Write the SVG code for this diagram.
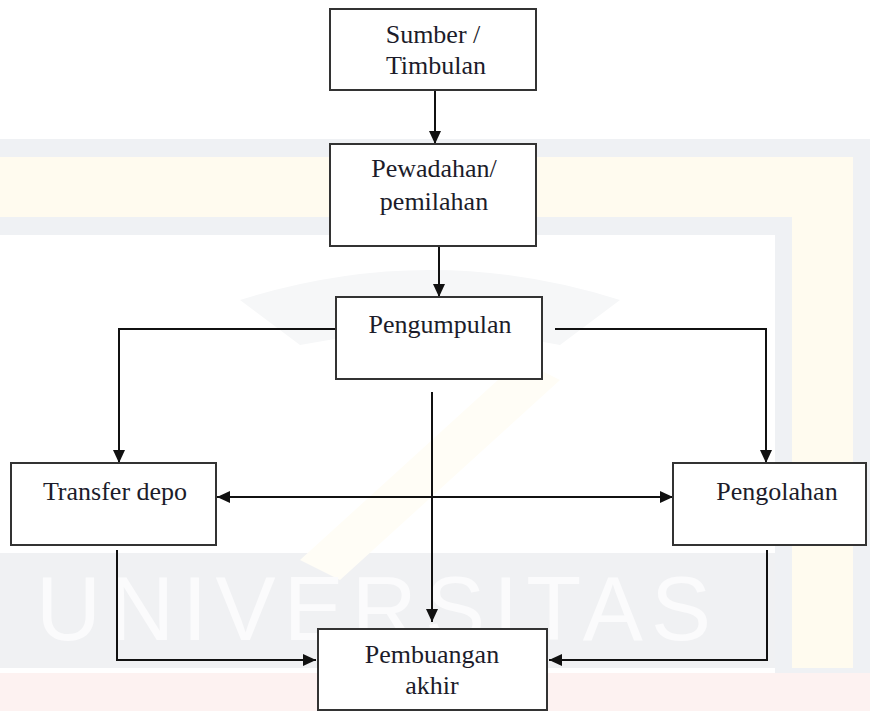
<svg xmlns="http://www.w3.org/2000/svg" width="870" height="711" viewBox="0 0 870 711">
<style>
.box{fill:#fff;stroke:#333;stroke-width:2}
.lbl{font-family:'Liberation Serif','Times New Roman',serif;font-size:26px;fill:#1c1c2a;text-anchor:middle}
.con{fill:none;stroke:#111;stroke-width:2}
</style>
<defs>
<marker id="ah" markerUnits="userSpaceOnUse" markerWidth="14" markerHeight="14" refX="13" refY="7" orient="auto-start-reverse">
<path d="M0,1 L13,7 L0,13 z" fill="#111"/>
</marker>
</defs>
<rect width="870" height="711" fill="#fff"/>
<g id="watermark">
<rect x="0" y="139" width="870" height="96" fill="#eff1f4"/>
<rect x="775" y="139" width="95" height="534" fill="#eff1f4"/>
<rect x="0" y="157" width="853" height="60" fill="#fffbef"/>
<rect x="792" y="157" width="61" height="511" fill="#fffbef"/>
<rect x="0" y="235" width="775" height="318" fill="#fff"/>
<rect x="0" y="553" width="775" height="115" fill="#f0f1f3"/>
<rect x="0" y="673" width="870" height="38" fill="#fdf2f1"/>
<path d="M240,300 Q430,240 620,300 L560,345 Q430,320 300,345 Z" fill="#f6f7f8"/>
<path d="M300,560 L520,360 L560,380 L340,580 Z" fill="#fffdf6"/>
<text x="36" y="640" textLength="675" lengthAdjust="spacing" font-family="Liberation Sans, Arial, sans-serif" font-size="90" fill="#fbfbfc">UNIVERSITAS</text>
</g>
<g id="connectors">
<line class="con" x1="435" y1="90" x2="435" y2="144" marker-end="url(#ah)"/>
<line class="con" x1="439" y1="246" x2="439" y2="297" marker-end="url(#ah)"/>
<polyline class="con" points="335,329 119,329 119,463" marker-end="url(#ah)"/>
<polyline class="con" points="555,329 766,329 766,463" marker-end="url(#ah)"/>
<line class="con" x1="432" y1="392" x2="432" y2="622" marker-end="url(#ah)"/>
<line class="con" x1="217" y1="497" x2="673" y2="497" marker-start="url(#ah)" marker-end="url(#ah)"/>
<polyline class="con" points="117,550 117,660 316,660" marker-end="url(#ah)"/>
<polyline class="con" points="767,550 767,660 549,660" marker-end="url(#ah)"/>
</g>
<g id="sumber">
<rect class="box" x="330" y="9" width="206" height="81"/>
<text class="lbl" font-family="Liberation Serif, serif" x="433" y="43">Sumber /</text>
<text class="lbl" font-family="Liberation Serif, serif" x="436" y="74">Timbulan</text>
</g>
<g id="pewadahan">
<rect class="box" x="330" y="144" width="206" height="102"/>
<text class="lbl" font-family="Liberation Serif, serif" x="434" y="177">Pewadahan/</text>
<text class="lbl" font-family="Liberation Serif, serif" x="434" y="210">pemilahan</text>
</g>
<g id="pengumpulan">
<rect class="box" x="336" y="297" width="206" height="82"/>
<text class="lbl" font-family="Liberation Serif, serif" x="440" y="333">Pengumpulan</text>
</g>
<g id="transfer">
<rect class="box" x="11" y="463" width="205" height="82"/>
<text class="lbl" font-family="Liberation Serif, serif" x="115" y="500">Transfer depo</text>
</g>
<g id="pengolahan">
<rect class="box" x="673" y="463" width="193" height="82"/>
<text class="lbl" font-family="Liberation Serif, serif" x="777" y="500">Pengolahan</text>
</g>
<g id="pembuangan">
<rect class="box" x="318" y="629" width="229" height="81"/>
<text class="lbl" font-family="Liberation Serif, serif" x="432" y="663">Pembuangan</text>
<text class="lbl" font-family="Liberation Serif, serif" x="432" y="694">akhir</text>
</g>
</svg>
